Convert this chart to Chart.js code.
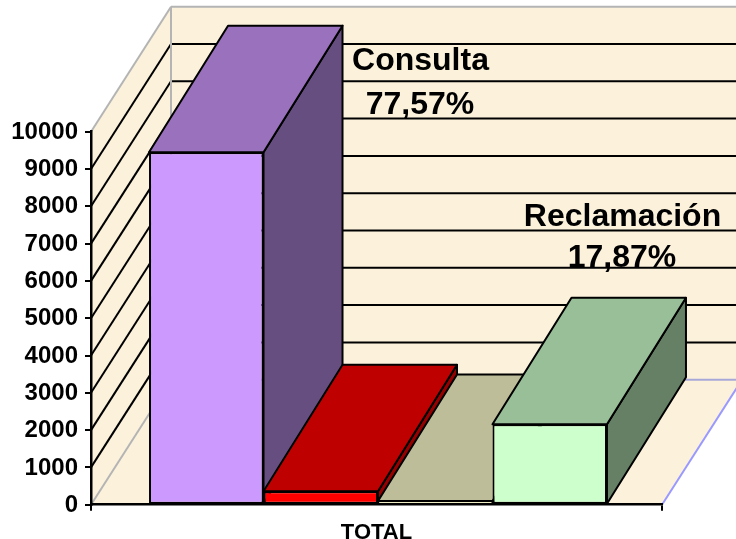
<!DOCTYPE html>
<html>
<head>
<meta charset="utf-8">
<style>html,body{margin:0;padding:0;background:#fff;overflow:hidden}canvas{display:block}</style>
<script src="https://cdn.jsdelivr.net/npm/chart.js@4"></script>
</head>
<body>
<canvas id="c" width="736" height="539"></canvas>
<script>
const categories = ["TOTAL"];
const seriesNames = ["Consulta", "Otros", "Sugerencia", "Reclamación"];
const consulta = [9450];
const otros = [360];
const sugerencia = [100];
const reclamacion = [2155];
const yTicks = [0,1000,2000,3000,4000,5000,6000,7000,8000,9000,10000];
const calloutLines = ["Consulta", "77,57%", "Reclamación", "17,87%"];

const DX = 79, DY = -126.5;
const WX = 80, WY = -125;
const BAR_SHIFT = 1.5;
const face = {
  front: ["#CC99FF", "#FF0000", "#FFFFCC", "#CCFFCC"],
  top:   ["#9A71BD", "#BF0000", "#BDBD99", "#99BF99"],
  side:  ["#664F80", "#960000", "#808066", "#668066"]
};
const WALL = "#FCF2DC";

function poly(ctx, pts, fill, stroke, lw) {
  ctx.beginPath();
  pts.forEach((p, i) => i ? ctx.lineTo(p[0], p[1]) : ctx.moveTo(p[0], p[1]));
  ctx.closePath();
  if (fill) { ctx.fillStyle = fill; ctx.fill(); }
  if (stroke) { ctx.strokeStyle = stroke; ctx.lineWidth = lw; ctx.lineJoin = "round"; ctx.stroke(); }
}
function line(ctx, x1, y1, x2, y2, c, lw) {
  ctx.beginPath(); ctx.moveTo(x1, y1); ctx.lineTo(x2, y2);
  ctx.strokeStyle = c; ctx.lineWidth = lw; ctx.stroke();
}

const walls = {
  id: "walls",
  afterDatasetsUpdate(chart) {
    chart.getSortedVisibleDatasetMetas().forEach(m => { m.data[0].x += BAR_SHIFT; });
  },
  beforeDraw(chart) {
    const { ctx, chartArea: a, scales: { y } } = chart;
    const b = y.getPixelForValue(0), t = y.getPixelForValue(10000);
    const l = a.left, r = a.right, far = 760;
    ctx.save();
    ctx.fillStyle = "#fff"; ctx.fillRect(0, 0, chart.width, chart.height);
    poly(ctx, [[l + WX, t + WY], [far, t + WY], [far, b + WY], [l + WX, b + WY]], WALL);
    poly(ctx, [[l, t], [l + WX, t + WY], [l + WX, b + WY], [l, b]], WALL);
    poly(ctx, [[l, b], [r, b], [r + WX, b + WY], [l + WX, b + WY]], WALL);
    yTicks.forEach(v => {
      const py = y.getPixelForValue(v);
      const edge = v === 0 || v === 10000;
      const c = edge ? "#B4B4B4" : "#000";
      line(ctx, l, py, l + WX, py + WY, c, 2);
      line(ctx, l + WX, py + WY, far, py + WY, v === 0 ? "#A8A8D8" : c, 2);
    });
    line(ctx, l + WX, t + WY, l + WX, b + WY, "#B4B4B4", 2);
    line(ctx, r, b, r + WX, b + WY, "#9999FF", 2);
    ctx.restore();
  },
  beforeDatasetsDraw(chart) {
    const { ctx } = chart;
    ctx.save();
    chart.getSortedVisibleDatasetMetas().forEach((m, i) => {
      const el = m.data[0];
      const hw = el.width / 2, x0 = el.x - hw, x1 = el.x + hw, t = el.y, b = el.base;
      poly(ctx, [[x1, t], [x1 + DX, t + DY], [x1 + DX, b + DY], [x1, b]], face.side[i], "#000", 2);
      poly(ctx, [[x0, t], [x1, t], [x1 + DX, t + DY], [x0 + DX, t + DY]], face.top[i], "#000", 2);
    });
    ctx.restore();
  },
  afterDraw(chart) {
    const { ctx } = chart;
    ctx.save();
    ctx.fillStyle = "#000";
    ctx.font = "bold 32px 'Liberation Sans', Arial, sans-serif";
    ctx.textAlign = "center";
    ctx.textBaseline = "alphabetic";
    ctx.fillText(calloutLines[0], 420.5, 69.5);
    ctx.fillText(calloutLines[1], 420, 113.5);
    ctx.fillText(calloutLines[2], 622.5, 226);
    ctx.fillText(calloutLines[3], 622, 267);
    ctx.restore();
  }
};

const allSeries = [consulta, otros, sugerencia, reclamacion];
new Chart(document.getElementById("c"), {
  type: "bar",
  data: {
    labels: categories,
    datasets: allSeries.map((d, i) => ({
      label: seriesNames[i],
      data: d,
      backgroundColor: face.front[i],
      borderColor: "#000",
      borderWidth: i === 2 ? 1 : 2,
      borderSkipped: false,
      barPercentage: 1,
      categoryPercentage: 0.802
    }))
  },
  options: {
    responsive: false,
    animation: false,
    layout: { autoPadding: false, padding: { top: 131.7, right: 74, left: 0, bottom: 0 } },
    plugins: { legend: { display: false }, title: { display: false }, tooltip: { enabled: false } },
    scales: {
      x: {
        z: 1,
        grid: { drawOnChartArea: false, drawTicks: true, tickLength: 6, color: "#000", lineWidth: 2 },
        border: { color: "#000", width: 2.5 },
        ticks: { color: "#000", padding: 9, font: { family: "'Liberation Sans', Arial, sans-serif", weight: "bold", size: 22 }, maxRotation: 0 },
        afterFit(s) { s.height = 34.3; }
      },
      y: {
        z: 1,
        min: 0, max: 10000,
        afterBuildTicks(s) { s.ticks = yTicks.map(v => ({ value: v })); },
        grid: { drawOnChartArea: false, drawTicks: true, tickLength: 6, color: "#000", lineWidth: 2 },
        border: { color: "#000", width: 2.5 },
        ticks: { color: "#000", padding: 7, labelOffset: 0.5, callback: v => String(v), font: { family: "'Liberation Sans', Arial, sans-serif", weight: "bold", size: 24 } },
        afterFit(s) { s.width = 91; }
      }
    }
  },
  plugins: [walls]
});
</script>
</body>
</html>
